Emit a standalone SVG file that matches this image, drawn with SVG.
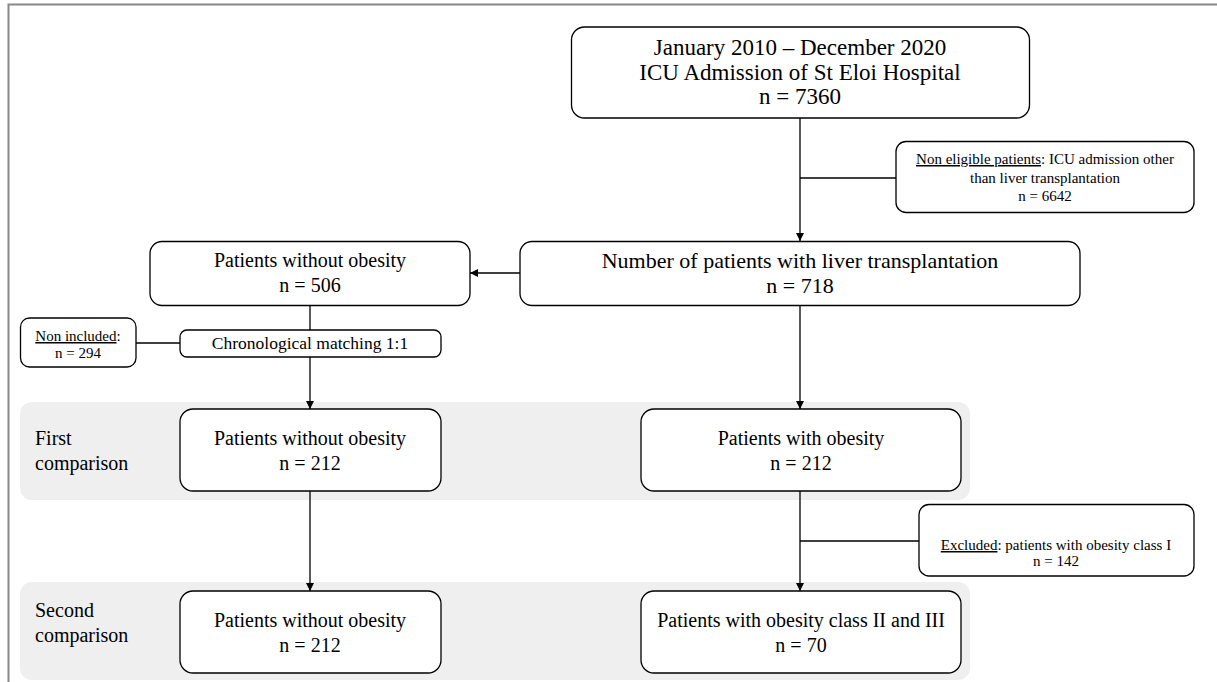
<svg xmlns="http://www.w3.org/2000/svg" width="1217" height="682" viewBox="0 0 1217 682">
<defs>
<style>
.box{fill:#fff;stroke:#000;stroke-width:1.3}
.band{fill:#efefef;stroke:none}
.t{font-family:"Liberation Serif","Times New Roman",serif;font-size:20px;fill:#000;text-anchor:middle}
.tl{font-family:"Liberation Serif","Times New Roman",serif;font-size:22px;fill:#000;text-anchor:middle}
.tt{font-family:"Liberation Serif","Times New Roman",serif;font-size:23px;fill:#000;text-anchor:middle}
.tc{font-family:"Liberation Serif","Times New Roman",serif;font-size:17.5px;fill:#000;text-anchor:middle}
.s{font-family:"Liberation Serif","Times New Roman",serif;font-size:15px;fill:#000;text-anchor:middle}
.lbl{font-family:"Liberation Serif","Times New Roman",serif;font-size:20px;fill:#000}
.ln{stroke:#000;stroke-width:1.3;fill:none}
</style>
<marker id="arr" viewBox="0 0 10 10" refX="10" refY="5" markerWidth="8" markerHeight="8" markerUnits="userSpaceOnUse" orient="auto">
<path d="M0,0 L10,5 L0,10 z" fill="#000"/>
</marker>
</defs>
<rect x="0" y="0" width="1217" height="682" fill="#fff"/>
<rect x="8.5" y="4.5" width="1230" height="700" fill="none" stroke="#888" stroke-width="2"/>

<g id="band1"><rect class="band" x="20" y="402" width="950" height="98" rx="12"/>
<text class="lbl" x="35" y="445">First</text><text class="lbl" x="35" y="470">comparison</text></g>
<g id="band2"><rect class="band" x="20" y="582" width="950" height="98" rx="12"/>
<text class="lbl" x="35" y="617">Second</text><text class="lbl" x="35" y="642">comparison</text></g>

<g id="connectors">
<line class="ln" x1="800" y1="118" x2="800" y2="241" marker-end="url(#arr)"/>
<line class="ln" x1="800" y1="178" x2="896" y2="178"/>
<line class="ln" x1="520" y1="273" x2="470" y2="273" marker-end="url(#arr)"/>
<line class="ln" x1="310" y1="305" x2="310" y2="330"/>
<line class="ln" x1="136" y1="343" x2="180" y2="343"/>
<line class="ln" x1="310" y1="357" x2="310" y2="409" marker-end="url(#arr)"/>
<line class="ln" x1="800" y1="305" x2="800" y2="409" marker-end="url(#arr)"/>
<line class="ln" x1="310" y1="491" x2="310" y2="591" marker-end="url(#arr)"/>
<line class="ln" x1="800" y1="491" x2="800" y2="591" marker-end="url(#arr)"/>
<line class="ln" x1="800" y1="541" x2="919" y2="541"/>
</g>

<g id="n-admission"><rect class="box" x="571.5" y="27" width="458" height="91" rx="13"/>
<text class="tt" x="800" y="55">January 2010 – December 2020</text>
<text class="tt" x="800" y="79.5">ICU Admission of St Eloi Hospital</text>
<text class="tt" x="800" y="104">n = 7360</text></g>

<g id="n-noneligible"><rect class="box" x="896" y="141.5" width="298" height="71" rx="10"/>
<text class="s" x="1045" y="164"><tspan text-decoration="underline">Non eligible patients</tspan>: ICU admission other</text>
<text class="s" x="1045" y="182.5">than liver transplantation</text>
<text class="s" x="1045" y="201">n = 6642</text></g>

<g id="n-liver"><rect class="box" x="520" y="241.5" width="560" height="64" rx="12"/>
<text class="tl" x="800" y="268">Number of patients with liver transplantation</text>
<text class="tl" x="800" y="293">n = 718</text></g>

<g id="n-without506"><rect class="box" x="150" y="241.5" width="320" height="64" rx="12"/>
<text class="t" x="310" y="267">Patients without obesity</text>
<text class="t" x="310" y="292">n = 506</text></g>

<g id="n-noninc"><rect class="box" x="20.5" y="318" width="115.5" height="49" rx="9"/>
<text class="s" x="78" y="341"><tspan text-decoration="underline">Non included</tspan>:</text>
<text class="s" x="78" y="358">n = 294</text></g>

<g id="n-chrono"><rect class="box" x="180" y="330" width="261" height="27" rx="7"/>
<text class="tc" x="310" y="349">Chronological matching 1:1</text></g>

<g id="n-without212a"><rect class="box" x="180" y="409" width="261" height="82" rx="13"/>
<text class="t" x="310" y="445">Patients without obesity</text>
<text class="t" x="310" y="470">n = 212</text></g>

<g id="n-with212"><rect class="box" x="641" y="409" width="320" height="82" rx="13"/>
<text class="t" x="801" y="445">Patients with obesity</text>
<text class="t" x="801" y="470">n = 212</text></g>

<g id="n-excluded"><rect class="box" x="919" y="504.5" width="275" height="71.5" rx="10"/>
<text class="s" x="1056" y="550"><tspan text-decoration="underline">Excluded</tspan>: patients with obesity class I</text>
<text class="s" x="1056" y="566">n = 142</text></g>

<g id="n-without212b"><rect class="box" x="180" y="591" width="261" height="82" rx="13"/>
<text class="t" x="310" y="627">Patients without obesity</text>
<text class="t" x="310" y="652">n = 212</text></g>

<g id="n-class23"><rect class="box" x="641" y="591" width="320" height="82" rx="13"/>
<text class="t" x="801" y="627">Patients with obesity class II and III</text>
<text class="t" x="801" y="652">n = 70</text></g>
</svg>
